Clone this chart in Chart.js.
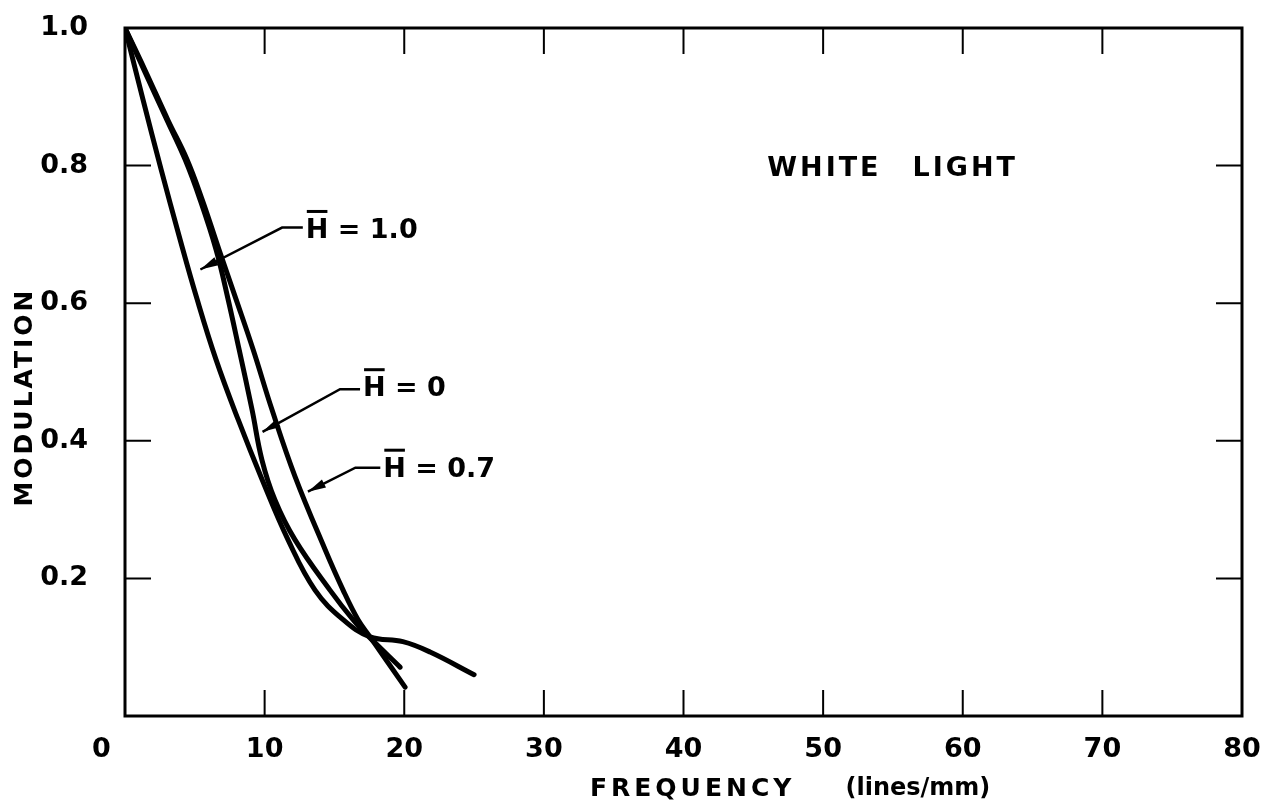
<!DOCTYPE html>
<html lang="en">
<head>
  <meta charset="UTF-8" />
  <title>Modulation vs Frequency - White Light</title>
  <script src="https://cdn.jsdelivr.net/npm/chart.js"></script>
  <style>
    body {
      margin: 0;
      background: #fff;
    }
    #wrap {
      width: 1274px;
      height: 809px;
      position: relative;
    }
  </style>
</head>
<body>
  <div id="wrap">
    <canvas id="myChart"></canvas>
  </div>

<script>
  // Curve data (frequency in lines/mm, modulation)
  const h10Freq = [0, 1.29, 2.58, 3.94, 5.16, 6.52, 8.1, 9.81, 11.68, 13.61, 15.62, 17.55, 19.9, 21.85, 25.0];
  const h10Mod  = [1.0, 0.896, 0.795, 0.693, 0.606, 0.518, 0.431, 0.344, 0.256, 0.183, 0.14, 0.115, 0.108, 0.093, 0.06];

  const h0Freq = [0, 1.36, 3.01, 4.3, 5.37, 6.52, 7.38, 8.17, 9.1, 9.81, 10.74, 12.18, 14.68, 16.33, 17.48, 19.7];
  const h0Mod  = [1.0, 0.939, 0.866, 0.809, 0.751, 0.678, 0.606, 0.533, 0.445, 0.372, 0.314, 0.256, 0.183, 0.14, 0.115, 0.071];

  const h07Freq = [0, 1.43, 3.08, 4.44, 5.52, 6.73, 7.95, 9.17, 10.53, 12.18, 14.33, 15.62, 16.69, 17.55, 20.06];
  const h07Mod  = [1.0, 0.939, 0.866, 0.809, 0.751, 0.678, 0.606, 0.533, 0.445, 0.348, 0.242, 0.183, 0.14, 0.115, 0.042];

  // Axis ticks
  const xTicks = [0, 10, 20, 30, 40, 50, 60, 70, 80];
  const yTicks = [0, 0.2, 0.4, 0.6, 0.8, 1.0];

  // Curve labels: text, text anchor (freq, mod), leader elbow, arrow tip
  const labelText  = ['1.0', '0', '0.7'];
  const labelAt    = [[12.95, 0.705], [17.05, 0.475], [18.5, 0.358]];
  const labelElbow = [[11.25, 0.71], [15.4, 0.475], [16.5, 0.361]];
  const labelTip   = [[5.4, 0.649], [9.85, 0.413], [13.1, 0.326]];

  const FONT = "'DejaVu Sans', sans-serif";

  function toPoints(xs, ys) {
    return xs.map((x, i) => ({ x: x, y: ys[i] }));
  }

  function curve(label, xs, ys) {
    return {
      label: label,
      data: toPoints(xs, ys),
      borderColor: '#000',
      borderWidth: 5,
      borderCapStyle: 'round',
      borderJoinStyle: 'round',
      pointRadius: 0,
      fill: false,
      tension: 0.4
    };
  }

  // Frame, inward tick marks, titles, annotations
  const decorations = {
    id: 'decorations',
    afterDraw(chart) {
      const ctx = chart.ctx;
      const a = chart.chartArea;
      const xs = chart.scales.x;
      const ys = chart.scales.y;
      ctx.save();
      ctx.strokeStyle = '#000';
      ctx.fillStyle = '#000';
      ctx.lineWidth = 3;
      ctx.strokeRect(a.left, a.top, a.right - a.left, a.bottom - a.top);

      ctx.lineWidth = 2;
      ctx.beginPath();
      xTicks.slice(1, -1).forEach(v => {
        const px = xs.getPixelForValue(v);
        ctx.moveTo(px, a.bottom); ctx.lineTo(px, a.bottom - 26);
        ctx.moveTo(px, a.top); ctx.lineTo(px, a.top + 26);
      });
      yTicks.slice(1, -1).forEach(v => {
        const py = ys.getPixelForValue(v);
        ctx.moveTo(a.left, py); ctx.lineTo(a.left + 26, py);
        ctx.moveTo(a.right, py); ctx.lineTo(a.right - 26, py);
      });
      ctx.stroke();

      ctx.textBaseline = 'middle';
      ctx.textAlign = 'left';

      // x axis title
      ctx.font = 'bold 25px ' + FONT;
      ctx.letterSpacing = '4px';
      ctx.fillText('FREQUENCY', xs.getPixelForValue(33.3), 789);
      ctx.font = 'bold 24px ' + FONT;
      ctx.letterSpacing = '0px';
      ctx.fillText('(lines/mm)', xs.getPixelForValue(51.6), 789);

      // y axis title
      ctx.font = 'bold 25px ' + FONT;
      ctx.letterSpacing = '3px';
      ctx.save();
      ctx.translate(25, 397);
      ctx.rotate(-Math.PI / 2);
      ctx.textAlign = 'center';
      ctx.fillText('MODULATION', 0, 0);
      ctx.restore();

      // panel caption
      ctx.font = 'bold 27px ' + FONT;
      ctx.letterSpacing = '3px';
      ctx.fillText('WHITE', xs.getPixelForValue(46.0), ys.getPixelForValue(0.795));
      ctx.fillText('LIGHT', xs.getPixelForValue(56.4), ys.getPixelForValue(0.795));
      ctx.letterSpacing = '0px';

      // curve labels with leaders and arrows
      labelText.forEach((t, i) => {
        const tx = xs.getPixelForValue(labelAt[i][0]);
        const ty = ys.getPixelForValue(labelAt[i][1]);
        const ex = xs.getPixelForValue(labelElbow[i][0]);
        const ey = ys.getPixelForValue(labelElbow[i][1]);
        const hx = xs.getPixelForValue(labelTip[i][0]);
        const hy = ys.getPixelForValue(labelTip[i][1]);

        ctx.font = 'bold 27px ' + FONT;
        ctx.fillText('H', tx, ty);
        const hw = ctx.measureText('H').width;
        ctx.fillRect(tx + 1, ty - 21, hw - 2, 3);
        ctx.fillText(' = ' + t, tx + hw, ty);

        ctx.lineWidth = 2.5;
        ctx.beginPath();
        ctx.moveTo(tx - 3, ey);
        ctx.lineTo(ex, ey);
        ctx.lineTo(hx, hy);
        ctx.stroke();

        const ang = Math.atan2(hy - ey, hx - ex);
        const len = 18, half = 4.5;
        ctx.beginPath();
        ctx.moveTo(hx, hy);
        ctx.lineTo(hx - len * Math.cos(ang) + half * Math.sin(ang), hy - len * Math.sin(ang) - half * Math.cos(ang));
        ctx.lineTo(hx - len * Math.cos(ang) - half * Math.sin(ang), hy - len * Math.sin(ang) + half * Math.cos(ang));
        ctx.closePath();
        ctx.fill();
      });
      ctx.restore();
    }
  };

  const ctx = document.getElementById('myChart').getContext('2d');
  const chart = new Chart(ctx, {
    type: 'line',
    data: {
      datasets: [
        curve('H = 1.0', h10Freq, h10Mod),
        curve('H = 0', h0Freq, h0Mod),
        curve('H = 0.7', h07Freq, h07Mod)
      ]
    },
    options: {
      responsive: true,
      maintainAspectRatio: false,
      animation: false,
      layout: {
        padding: { top: 28, right: 32, left: 0, bottom: 0 }
      },
      plugins: {
        legend: { display: false },
        tooltip: { enabled: false }
      },
      scales: {
        x: {
          type: 'linear',
          min: 0,
          max: 80,
          afterFit: s => {
            s.height = 93;
            s.paddingLeft = 0;
            s.paddingRight = 0;
          },
          afterBuildTicks: s => { s.ticks = xTicks.map(v => ({ value: v })); },
          ticks: {
            color: '#000',
            padding: 10,
            font: { family: FONT, size: 27, weight: 'bold' },
            maxRotation: 0,
            // the origin label sits a little left of the axis corner
            callback: v => (v === 0 ? '0     ' : String(v))
          },
          grid: { display: false },
          border: { display: false }
        },
        y: {
          min: 0,
          max: 1,
          afterFit: s => {
            s.width = 125;
            s.paddingTop = 0;
            s.paddingBottom = 0;
          },
          afterBuildTicks: s => { s.ticks = yTicks.map(v => ({ value: v })); },
          ticks: {
            color: '#000',
            padding: 29,
            font: { family: FONT, size: 27, weight: 'bold' },
            callback: v => (v === 0 ? '' : v.toFixed(1))
          },
          grid: { display: false },
          border: { display: false }
        }
      }
    },
    plugins: [decorations]
  });
</script>
</body>
</html>
